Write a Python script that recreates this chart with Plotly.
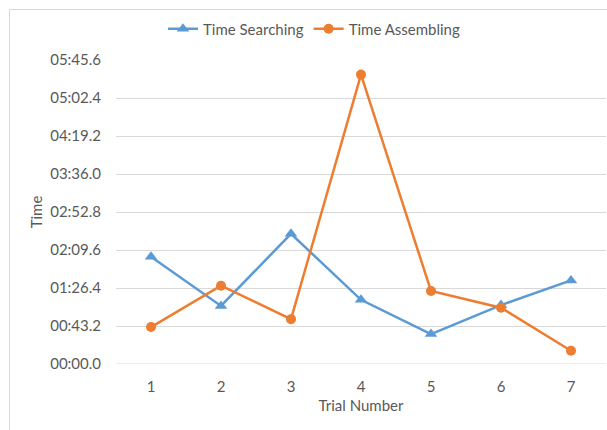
import plotly.graph_objects as go

# Trial data (durations in seconds)
trials = [1, 2, 3, 4, 5, 6, 7]
time_searching = [122, 66, 148, 73, 34, 67, 95]
time_assembling = [42, 89, 51, 329, 83, 64, 15]

# Y-axis ticks every 43.2 s, shown as mm:ss.s
y_tick_values = [0, 43.2, 86.4, 129.6, 172.8, 216.0, 259.2, 302.4, 345.6]
y_tick_labels = ["00:00.0", "00:43.2", "01:26.4", "02:09.6", "02:52.8",
                 "03:36.0", "04:19.2", "05:02.4", "05:45.6"]

BLUE = "#5B9BD5"
ORANGE = "#ED7D31"
TEXT = "#595959"
GRID = "#D9D9D9"
FONT = "Lato"
FS = 15

W, H = 607, 430
L, R, T, B = 116, 1, 60, 66
pw, ph = W - L - R, H - T - B

def px_x(x):
    return (x - L) / pw

def px_y(y):
    return (H - B - y) / ph

fig = go.Figure()
fig.add_trace(go.Scatter(
    x=trials, y=time_searching, name="Time Searching",
    mode="lines+markers",
    line=dict(color=BLUE, width=2.5),
    marker=dict(symbol="triangle-up", size=11, color=BLUE),
))
fig.add_trace(go.Scatter(
    x=trials, y=time_assembling, name="Time Assembling",
    mode="lines+markers",
    line=dict(color=ORANGE, width=2.5),
    marker=dict(symbol="circle", size=10, color=ORANGE),
))

fig.update_layout(
    width=W, height=H,
    margin=dict(l=L, r=R, t=T, b=B),
    paper_bgcolor="white", plot_bgcolor="white",
    font=dict(family=FONT, size=FS, color=TEXT),
    showlegend=True,
    legend=dict(
        orientation="h", xref="paper", yref="paper",
        x=px_x(314), xanchor="center", y=px_y(29), yanchor="middle",
        font=dict(family=FONT, size=FS, color=TEXT),
        itemwidth=30, tracegroupgap=0,
    ),
    xaxis=dict(
        range=[0.5, 7.5], tickvals=trials, ticktext=[str(t) for t in trials],
        showgrid=False, zeroline=False, showline=False, ticks="",
        tickfont=dict(size=FS, color=TEXT), ticklabelstandoff=12,
        title=dict(text="Trial Number", font=dict(size=FS, color=TEXT), standoff=6),
    ),
    yaxis=dict(
        range=[0, 345.6], tickvals=y_tick_values, ticktext=y_tick_labels,
        showgrid=True, gridcolor=GRID, gridwidth=1,
        zeroline=False, showline=False, ticks="",
        tickfont=dict(size=FS, color=TEXT), ticklabelstandoff=14,
        title=dict(text="Time", font=dict(size=FS, color=TEXT), standoff=3),
    ),
    shapes=[
        # chart frame
        dict(type="rect", xref="paper", yref="paper",
             x0=px_x(9.5), x1=px_x(W + 10), y0=px_y(H + 10), y1=px_y(9.5),
             line=dict(color=GRID, width=1), fillcolor="rgba(0,0,0,0)", layer="below"),
        # category axis line at zero
        dict(type="line", xref="paper", yref="y",
             x0=0, x1=1, y0=0, y1=0, line=dict(color=GRID, width=1), layer="below"),
    ],
)

fig.write_html("out.html")
